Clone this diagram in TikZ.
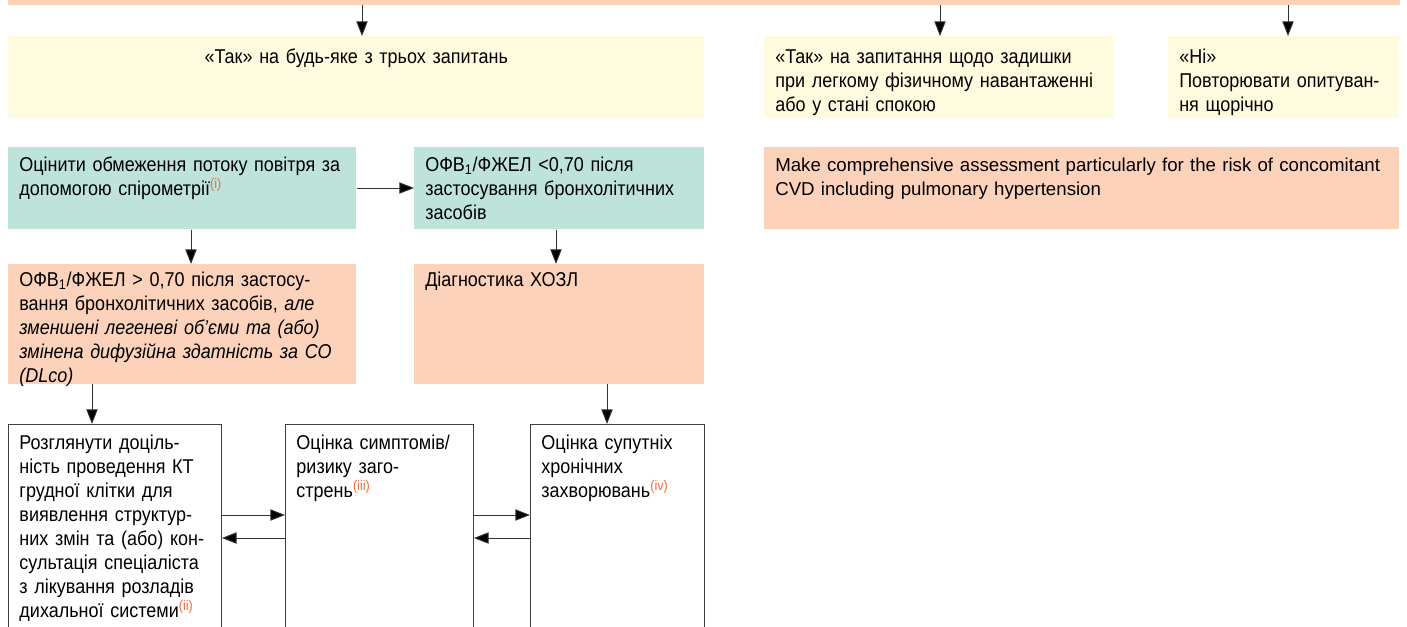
\documentclass[tikz,border=0pt]{standalone}
\usepackage{fontspec}
\setmainfont{Liberation Sans}
\newfontfamily\narrowsans[FakeStretch=0.9]{Liberation Sans}
\usetikzlibrary{arrows.meta,calc}

\definecolor{Peach}{HTML}{FDD2BA}
\definecolor{Cream}{HTML}{FFFBDF}
\definecolor{Mint}{HTML}{BEE3DA}
\definecolor{NoteRed}{HTML}{F26B3A}
\newcommand{\refnote}[1]{\textsuperscript{\textcolor{NoteRed}{(#1)}}}

\begin{document}
\begin{tikzpicture}[
        x=0.75pt, y=-0.75pt,
        BoxCfg/.style n args={3}{
            anchor=north west,
            fill=#1,
            text width=#2,
            text depth=#3,
            text height=18.5pt,
            inner xsep=8.25pt,
            inner ysep=0pt,
            align=left,
            font=\narrowsans\fontsize{15pt}{18pt}\selectfont
        },
        ArrowCfg/.style={
            draw=black!80,
            line width=0.7pt,
            -{Triangle[length=11pt,width=8.5pt,fill=black]}
        }
    ]
    \useasboundingbox (0,0) rectangle (1407,626);

    % top strip (cut off)
    \node[anchor=south west, fill=Peach, minimum width=1044pt, minimum height=30pt, inner sep=0pt] (band) at (8,5) {};

    % answers
    \node[BoxCfg={Cream}{505.5pt}{41pt}, text height=20.5pt, align=center] (yesany) at (8,36) {«Так» на будь-яке з трьох запитань};
    \node[BoxCfg={Cream}{245.25pt}{41pt}, text height=20.5pt] (yesdysp) at (764,36) {«Так» на запитання щодо задишки\\при легкому фізичному навантаженні\\або у стані спокою};
    \node[BoxCfg={Cream}{156.75pt}{41pt}, text height=20.5pt] (nonone) at (1168,36) {«Ні»\\Повторювати опитуван-\\ня щорічно};

    % spirometry
    \node[BoxCfg={Mint}{244.5pt}{43pt}] (spiro) at (8,147) {Оцінити обмеження потоку повітря за\\допомогою спірометрії\refnote{i}};
    \node[BoxCfg={Mint}{201pt}{43pt}] (ratiolow) at (414,147) {ОФВ\textsubscript{1}/ФЖЕЛ <0,70 після\\застосування бронхолітичних\\засобів};
    \node[BoxCfg={Peach}{459.75pt}{43pt}, font=\fontsize{14pt}{18pt}\selectfont] (cvdrisk) at (764,147) {Make comprehensive assessment particularly for the risk of concomitant\\CVD including pulmonary hypertension};

    % results
    \node[BoxCfg={Peach}{244.5pt}{73pt}, text height=16.5pt] (ratiohigh) at (8,264) {ОФВ\textsubscript{1}/ФЖЕЛ > 0,70 після застосу-\\вання бронхолітичних засобів, \textit{але}\\\textit{зменшені легеневі об’єми та (або)}\\\textit{змінена дифузійна здатність за СО}\\\textit{(DLco)}};
    \node[BoxCfg={Peach}{201pt}{73pt}, text height=16.5pt] (copd) at (414,264) {Діагностика ХОЗЛ};

    % assessments (cut off)
    \node[BoxCfg={white}{143.25pt}{188pt}, draw=black!75, line width=0.7pt] (ctscan) at (8,424) {Розглянути доціль-\\ність проведення КТ\\грудної клітки для\\виявлення структур-\\них змін та (або) кон-\\сультація спеціаліста\\з лікування розладів\\дихальної системи\refnote{ii}};
    \node[BoxCfg={white}{124.5pt}{188pt}, draw=black!75, line width=0.7pt] (symptoms) at (285,424) {Оцінка симптомів/\\ризику заго-\\стрень\refnote{iii}};
    \node[BoxCfg={white}{114pt}{188pt}, draw=black!75, line width=0.7pt] (comorbid) at (530,424) {Оцінка супутніх\\хронічних\\захворювань\refnote{iv}};

    % arrows
    \draw[ArrowCfg] (band.south -| 362,0) -- (yesany.north -| 362,0);
    \draw[ArrowCfg] (band.south -| 940,0) -- (yesdysp.north -| 940,0);
    \draw[ArrowCfg] (band.south -| 1288,0) -- (nonone.north -| 1288,0);
    \draw[ArrowCfg] (spiro.east |- 0,188) -- (ratiolow.west |- 0,188);
    \draw[ArrowCfg] (spiro.south -| 191,0) -- (ratiohigh.north -| 191,0);
    \draw[ArrowCfg] (ratiolow.south -| 556,0) -- (copd.north -| 556,0);
    \draw[ArrowCfg] (ratiohigh.south -| 92,0) -- (ctscan.north -| 92,0);
    \draw[ArrowCfg] (copd.south -| 607,0) -- (comorbid.north -| 607,0);
    \draw[ArrowCfg] (ctscan.east |- 0,515) -- (symptoms.west |- 0,515);
    \draw[ArrowCfg] (symptoms.west |- 0,538) -- (ctscan.east |- 0,538);
    \draw[ArrowCfg] (symptoms.east |- 0,515) -- (comorbid.west |- 0,515);
    \draw[ArrowCfg] (comorbid.west |- 0,538) -- (symptoms.east |- 0,538);
\end{tikzpicture}
\end{document}
